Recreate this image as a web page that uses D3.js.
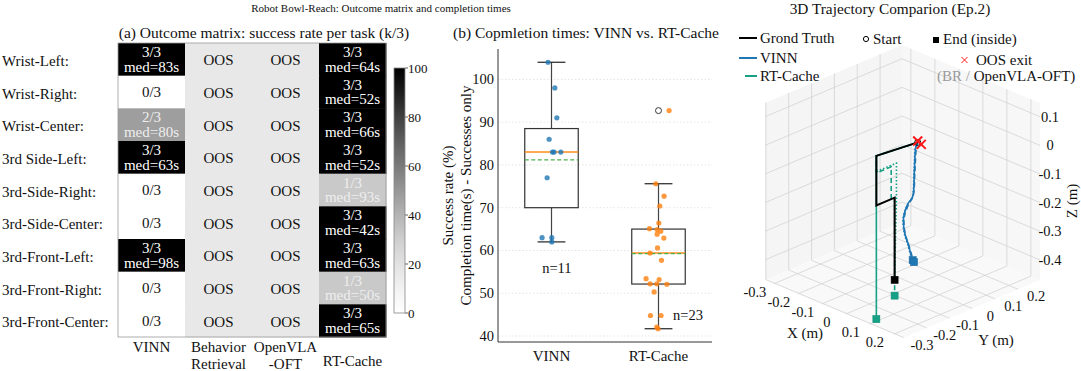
<!DOCTYPE html>
<html><head><meta charset="utf-8">
<script src="https://cdn.jsdelivr.net/npm/d3@7"></script>
<style>
body{margin:0;background:#fff}
svg{display:block}
text{font-family:"Liberation Serif","Times New Roman",serif;fill:#111}
</style>
</head><body>
<svg id="c" width="1081" height="371"></svg>
<script>
// ---------------- DATA ----------------
const tasks = ["Wrist-Left:","Wrist-Right:","Wrist-Center:","3rd Side-Left:","3rd-Side-Right:","3rd-Side-Center:","3rd-Front-Left:","3rd-Front-Right:","3rd-Front-Center:"];
const methods = ["VINN","Behavior|Retrieval","OpenVLA|-OFT","RT-Cache"];
const vinnSuccess = [3,0,2,3,0,0,3,0,0];
const vinnMedian  = [83,null,80,63,null,null,98,null,null];
const rtSuccess   = [3,3,3,3,1,3,3,1,3];
const rtMedian    = [64,52,66,52,93,42,63,50,65];
const colorbarTicks = [0,20,40,60,80,100];

const boxGroups = ["VINN","RT-Cache"];
const vinnTimes  = [104,98,91,86,83,83,83,77,63,63,62];
const vinnJitter = [-0.032,0.031,0.05,-0.022,0.009,0.024,0.087,-0.041,-0.088,0.003,0.003];
const rtTimes  = [75.6,72.7,70.4,66.4,65.1,64.9,64.5,63.8,62.9,60.6,59.4,57.7,53.4,53.2,52.2,52.2,52.1,50.3,44.8,44.8,42.1,41.7,92.7];
const rtJitter = [-0.025,0.052,0.012,0.003,-0.084,-0.013,0.021,-0.013,0.05,-0.009,-0.079,0.028,-0.116,0.006,-0.079,-0.016,0.078,-0.041,-0.075,0.024,-0.016,-0.004,0.099];
const boxYTicks = [40,50,60,70,80,90,100];

const xTicks3 = [-0.3,-0.2,-0.1,0,0.1,0.2];
const yTicks3 = [-0.3,-0.2,-0.1,0,0.1,0.2];
const zTicks3 = [-0.4,-0.3,-0.2,-0.1,0,0.1];
const groundTruth = [[0.01,0,0.03],[-0.01,-0.16,0.03],[-0.01,-0.16,-0.143],[-0.01,-0.08,-0.143],[-0.01,-0.08,-0.43]];
const rtTrial1 = [[0.01,0,0.03],[-0.01,-0.16,0.03],[-0.01,-0.16,-0.143],[-0.01,-0.16,-0.54]];
const rtTrial2 = [[0.01,0,0.03],[-0.01,-0.16,0.03],[-0.01,-0.16,-0.03],[-0.01,-0.095,-0.03],[-0.01,-0.095,-0.142],[-0.01,-0.08,-0.143],[-0.01,-0.08,-0.485]];
const rtTrial3 = [[0.01,0,0.03],[-0.01,-0.16,0.03],[-0.01,-0.16,-0.025],[-0.01,-0.072,-0.025],[-0.01,-0.072,-0.143],[-0.01,-0.08,-0.43]];
const vinnTrial1 = [[0.010,0.000,0.030],[0.006,-0.004,0.014],[0.003,-0.007,-0.067],[-0.0005,-0.011,-0.160],[-0.010,-0.021,-0.183],[-0.018,-0.029,-0.218],[-0.020,-0.031,-0.242],[-0.017,-0.028,-0.288],[-0.010,-0.021,-0.323],[-0.005,-0.015,-0.358],[-0.0005,-0.011,-0.381]];
const vinnTrial2 = [[0.010,0.000,0.030],[0.007,-0.003,0.010],[0.004,-0.006,-0.070],[0.000,-0.010,-0.158],[-0.009,-0.020,-0.186],[-0.017,-0.028,-0.222],[-0.019,-0.030,-0.246],[-0.016,-0.027,-0.292],[-0.009,-0.020,-0.327],[-0.003,-0.013,-0.362],[0.002,-0.008,-0.388]];
const vinnTrial3 = [[0.010,0.000,0.030],[0.005,-0.005,0.012],[0.002,-0.008,-0.066],[-0.002,-0.012,-0.162],[-0.011,-0.022,-0.186],[-0.019,-0.030,-0.220],[-0.021,-0.032,-0.246],[-0.018,-0.029,-0.290],[-0.011,-0.022,-0.326],[-0.006,-0.016,-0.360],[-0.001,-0.011,-0.384]];
const oosExits = [[0.01,0,0.035],[0.02,0.005,0.025]];

// ---------------- SETUP ----------------
const svg = d3.select("#c");
const FS = 15;

svg.append("text").attr("x",381).attr("y",12).attr("text-anchor","middle")
  .style("font-size","11px").text("Robot Bowl-Reach: Outcome matrix and completion times");

// ---------------- (a) HEATMAP ----------------
const hx = d3.scaleBand().domain(d3.range(4)).range([118,386]);
const hy = d3.scaleBand().domain(d3.range(9)).range([43,337]);
const cellColor = d3.scaleLinear().domain([0,33.3,66.7,100]).range(["#ffffff","#c9c9c9","#9e9e9e","#000000"]);
const oosColor = "#e8e8e8";
const ga = svg.append("g");
ga.append("text").attr("x",264).attr("y",38).attr("text-anchor","middle").style("font-size","15.5px")
  .text("(a) Outcome matrix: success rate per task (k/3)");

const cells = [];
tasks.forEach((t,i)=>{
  cells.push({c:0,r:i,succ:vinnSuccess[i],med:vinnMedian[i]});
  cells.push({c:1,r:i,oos:true});
  cells.push({c:2,r:i,oos:true});
  cells.push({c:3,r:i,succ:rtSuccess[i],med:rtMedian[i]});
});
ga.selectAll("rect.cell").data(cells).join("rect").attr("class","cell")
  .attr("x",d=>hx(d.c)).attr("y",d=>hy(d.r)).attr("width",hx.bandwidth()+0.5).attr("height",hy.bandwidth()+0.5)
  .attr("fill",d=>d.oos?oosColor:cellColor(d.succ/3*100));
ga.append("rect").attr("x",118).attr("y",43).attr("width",268).attr("height",294)
  .attr("fill","none").attr("stroke","#999").attr("stroke-width",0.8);
cells.forEach(d=>{
  const cx = hx(d.c)+hx.bandwidth()/2, cy = hy(d.r)+hy.bandwidth()/2;
  if(d.oos){
    ga.append("text").attr("x",cx).attr("y",cy+6).attr("text-anchor","middle").style("font-size",FS+"px").text("OOS");
  } else if(d.succ===0){
    ga.append("text").attr("x",cx).attr("y",cy+5).attr("text-anchor","middle").style("font-size",FS+"px").text(`${d.succ}/3`);
  } else {
    const col = d.succ===3?"#ffffff":"#eeeeee";
    ga.append("text").attr("x",cx).attr("y",cy-2.5).attr("text-anchor","middle").style("font-size",FS+"px").style("fill",col).text(`${d.succ}/3`);
    ga.append("text").attr("x",cx).attr("y",cy+12.3).attr("text-anchor","middle").style("font-size",FS+"px").style("fill",col).text(`med=${d.med}s`);
  }
});
tasks.forEach((t,i)=>{
  ga.append("text").attr("x",2).attr("y",hy(i)+hy.bandwidth()/2+6.5).style("font-size",FS+"px").text(t);
});
methods.forEach((m,i)=>{
  const parts = m.split("|");
  const cx = hx(i)+hx.bandwidth()/2;
  if(parts.length===1){
    const yy = m==="RT-Cache"?365.5:352;
    ga.append("text").attr("x",cx).attr("y",yy).attr("text-anchor","middle").style("font-size",FS+"px").text(m);
  } else {
    parts.forEach((p,k)=>ga.append("text").attr("x",cx).attr("y",352+k*17).attr("text-anchor","middle").style("font-size",FS+"px").text(p));
  }
});
// colorbar
const cbY = d3.scaleLinear().domain([0,100]).range([313,68]);
const defs = svg.append("defs");
const grad = defs.append("linearGradient").attr("id","cbg").attr("x1",0).attr("y1",1).attr("x2",0).attr("y2",0);
d3.range(0,1.001,0.1).forEach(t=>grad.append("stop").attr("offset",t).attr("stop-color",d3.interpolateGreys(t)));
ga.append("rect").attr("x",394).attr("y",cbY(100)).attr("width",11).attr("height",cbY(0)-cbY(100))
  .attr("fill","url(#cbg)").attr("stroke","#888").attr("stroke-width",0.8);
colorbarTicks.forEach(v=>{
  ga.append("line").attr("x1",405).attr("x2",408).attr("y1",cbY(v)).attr("y2",cbY(v)).attr("stroke","#666");
  ga.append("text").attr("x",408).attr("y",cbY(v)+4.5).style("font-size","13px").text(v);
});

// ---------------- (b) BOXPLOT ----------------
const bx = d3.scaleLinear().domain([0.5,2.5]).range([498,712]);
const by = d3.scaleLinear().domain([38.6,107.1]).range([342,49]);
const gb = svg.append("g");
gb.append("text").attr("x",586).attr("y",38).attr("text-anchor","middle").style("font-size","15.5px")
  .text("(b) Copmletion times: VINN vs. RT-Cache");
boxYTicks.forEach(v=>{
  gb.append("line").attr("x1",498).attr("x2",712).attr("y1",by(v)).attr("y2",by(v))
    .attr("stroke","#ddd").attr("stroke-width",0.8).attr("stroke-dasharray","1.5,2");
  gb.append("text").attr("x",494).attr("y",by(v)+5).attr("text-anchor","end").style("font-size","14.5px").text(v);
});
gb.append("line").attr("x1",498).attr("x2",498).attr("y1",49).attr("y2",342).attr("stroke","#333").attr("stroke-width",1);
gb.append("line").attr("x1",498).attr("x2",712).attr("y1",342).attr("y2",342).attr("stroke","#333").attr("stroke-width",1);
boxGroups.forEach((g,i)=>gb.append("text").attr("x",bx(i+1)).attr("y",361).attr("text-anchor","middle").style("font-size",FS+"px").text(g));
const yl = gb.append("text").attr("transform",`translate(0,${(49+342)/2}) rotate(-90)`).attr("text-anchor","middle").style("font-size",FS+"px");
yl.append("tspan").attr("x",0).attr("y",453).text("Success rate (%)");
yl.append("tspan").attr("x",0).attr("y",471).text("Completion time(s) - Successes only");

function stats(arr){
  const s = arr.slice().sort(d3.ascending);
  const q1=d3.quantile(s,0.25), q3=d3.quantile(s,0.75), med=d3.quantile(s,0.5), iqr=q3-q1;
  const lo = d3.min(s.filter(v=>v>=q1-1.5*iqr)), hi = d3.max(s.filter(v=>v<=q3+1.5*iqr));
  return {q1,q3,med,lo,hi,mean:d3.mean(s),out:s.filter(v=>v<lo||v>hi)};
}
const groupsData = [{vals:vinnTimes,jit:vinnJitter,col:"#1f77b4"},{vals:rtTimes,jit:rtJitter,col:"#ff7f0e"}];
groupsData.forEach((G,i)=>{
  const st = stats(G.vals), p=i+1, hw=0.25, cw=0.13;
  gb.append("line").attr("x1",bx(p)).attr("x2",bx(p)).attr("y1",by(st.q3)).attr("y2",by(st.hi)).attr("stroke","#444").attr("stroke-width",1.2);
  gb.append("line").attr("x1",bx(p)).attr("x2",bx(p)).attr("y1",by(st.q1)).attr("y2",by(st.lo)).attr("stroke","#444").attr("stroke-width",1.2);
  [st.hi,st.lo].forEach(v=>gb.append("line").attr("x1",bx(p-cw)).attr("x2",bx(p+cw)).attr("y1",by(v)).attr("y2",by(v)).attr("stroke","#222").attr("stroke-width",1.2));
  gb.append("rect").attr("x",bx(p-hw)).attr("y",by(st.q3)).attr("width",bx(p+hw)-bx(p-hw)).attr("height",by(st.q1)-by(st.q3))
    .attr("fill","none").attr("stroke","#333").attr("stroke-width",1.2);
  gb.append("line").attr("x1",bx(p-hw)).attr("x2",bx(p+hw)).attr("y1",by(st.med)).attr("y2",by(st.med)).attr("stroke","#ff8c1a").attr("stroke-width",1.5);
  gb.append("line").attr("x1",bx(p-hw)).attr("x2",bx(p+hw)).attr("y1",by(st.mean)).attr("y2",by(st.mean)).attr("stroke","#4caf50").attr("stroke-width",1.3).attr("stroke-dasharray","4,2.5");
  st.out.forEach(v=>gb.append("circle").attr("cx",bx(p)).attr("cy",by(v)).attr("r",3).attr("fill","none").attr("stroke","#222").attr("stroke-width",0.9));
  G.vals.forEach((v,k)=>gb.append("circle").attr("cx",bx(p+G.jit[k])).attr("cy",by(v)).attr("r",2.6).attr("fill",G.col).attr("fill-opacity",0.8));
  gb.append("text").attr("x",bx(p+(i===0?0.05:0.276))).attr("y",by(i===0?55.8:44.9)+5).attr("text-anchor","middle").style("font-size","14.5px").text(`n=${G.vals.length}`);
});

// ---------------- (c) 3D TRAJECTORY ----------------
const g3 = svg.append("g");
const xN = d3.scaleLinear().domain([-0.337,0.238]).range([0,1]);
const yN = d3.scaleLinear().domain([-0.304,0.296]).range([0,1]);
const zN = d3.scaleLinear().domain([-0.47,0.148]).range([0,1]);
const O=[765,280], EX=[138,58], EY=[137,-58], EZ=[0,-177];
function proj(p){const a=xN(p[0]),b=yN(p[1]),c=zN(p[2]);return [O[0]+a*EX[0]+b*EY[0]+c*EZ[0],O[1]+a*EX[1]+b*EY[1]+c*EZ[1]];}
const X0=xN.domain()[0],X1=xN.domain()[1],Y0=yN.domain()[0],Y1=yN.domain()[1],Z0=zN.domain()[0],Z1=zN.domain()[1];
const poly = pts=>pts.map(p=>proj(p).join(",")).join(" ");
// panes
g3.append("polygon").attr("points",poly([[X0,Y0,Z0],[X1,Y0,Z0],[X1,Y1,Z0],[X0,Y1,Z0]])).attr("fill","#f9f9f9");
g3.append("polygon").attr("points",poly([[X0,Y0,Z0],[X0,Y1,Z0],[X0,Y1,Z1],[X0,Y0,Z1]])).attr("fill","#f5f5f5");
g3.append("polygon").attr("points",poly([[X0,Y1,Z0],[X1,Y1,Z0],[X1,Y1,Z1],[X0,Y1,Z1]])).attr("fill","#f7f7f7");
const gl = (a,b)=>{const p=proj(a),q=proj(b);g3.append("line").attr("x1",p[0]).attr("y1",p[1]).attr("x2",q[0]).attr("y2",q[1]).attr("stroke","#d3d3d3").attr("stroke-width",0.8);};
xTicks3.forEach(x=>{gl([x,Y0,Z0],[x,Y1,Z0]);gl([x,Y1,Z0],[x,Y1,Z1]);});
yTicks3.forEach(y=>{gl([X0,y,Z0],[X1,y,Z0]);gl([X0,y,Z0],[X0,y,Z1]);});
zTicks3.forEach(z=>{gl([X0,Y0,z],[X0,Y1,z]);gl([X0,Y1,z],[X1,Y1,z]);});
// tick labels
xTicks3.forEach(x=>{const p=proj([x,Y0,Z0]);g3.append("text").attr("x",p[0]-19).attr("y",p[1]+13).attr("text-anchor","middle").style("font-size","14.5px").text(x);});
yTicks3.forEach(y=>{const p=proj([X1,y,Z0]);g3.append("text").attr("x",p[0]+18).attr("y",p[1]+12).attr("text-anchor","middle").style("font-size","14.5px").text(y);});
zTicks3.forEach(z=>{const p=proj([X1,Y1,z]);g3.append("text").attr("x",p[0]+10).attr("y",p[1]+5).attr("text-anchor","middle").style("font-size","14.5px").text(z);});
g3.append("text").attr("x",805).attr("y",338).attr("text-anchor","middle").style("font-size",FS+"px").text("X (m)");
g3.append("text").attr("x",996).attr("y",345).attr("text-anchor","middle").style("font-size",FS+"px").text("Y (m)");
g3.append("text").attr("transform","translate(1077,201) rotate(-90)").attr("text-anchor","middle").style("font-size",FS+"px").text("Z (m)");
// trajectories
const line3 = d3.line().x(d=>proj(d)[0]).y(d=>proj(d)[1]);
const curve3 = d3.line().x(d=>proj(d)[0]).y(d=>proj(d)[1]).curve(d3.curveCatmullRom);
const teal="#16a085", blue="#1f77b4";
g3.append("path").attr("d",line3(rtTrial1)).attr("fill","none").attr("stroke",teal).attr("stroke-width",1.6);
g3.append("path").attr("d",line3(rtTrial2)).attr("fill","none").attr("stroke",teal).attr("stroke-width",1.6).attr("stroke-dasharray","5,3");
g3.append("path").attr("d",line3(rtTrial3)).attr("fill","none").attr("stroke",teal).attr("stroke-width",1.6).attr("stroke-dasharray","1.5,2");
g3.append("path").attr("d",curve3(vinnTrial1)).attr("fill","none").attr("stroke",blue).attr("stroke-width",1.6);
g3.append("path").attr("d",curve3(vinnTrial2)).attr("fill","none").attr("stroke",blue).attr("stroke-width",1.6).attr("stroke-dasharray","5,3");
g3.append("path").attr("d",curve3(vinnTrial3)).attr("fill","none").attr("stroke",blue).attr("stroke-width",1.4).attr("stroke-dasharray","1.5,2");
g3.append("path").attr("d",line3(groundTruth)).attr("fill","none").attr("stroke","#000").attr("stroke-width",2);
const sq=(p,c)=>{const q=proj(p);g3.append("rect").attr("x",q[0]-3.5).attr("y",q[1]-3.5).attr("width",7).attr("height",7).attr("fill",c).attr("stroke",d3.color(c).darker(0.3)).attr("stroke-width",0.6);};
[rtTrial1,rtTrial2].forEach(t=>sq(t[t.length-1],teal));
[vinnTrial1,vinnTrial2].forEach(t=>sq(t[t.length-1],blue));
sq(groundTruth[groundTruth.length-1],"#000");
const st0 = proj(groundTruth[0]);
g3.append("circle").attr("cx",st0[0]).attr("cy",st0[1]).attr("r",3).attr("fill","none").attr("stroke","#000");
const xMark=(p,s,w)=>{g3.append("path").attr("d",`M${p[0]-s},${p[1]-s}L${p[0]+s},${p[1]+s}M${p[0]-s},${p[1]+s}L${p[0]+s},${p[1]-s}`).attr("stroke","#ff1a1a").attr("stroke-width",w);};
oosExits.forEach(p=>xMark(proj(p),4.5,2));
// title + legend
g3.append("text").attr("x",890).attr("y",14).attr("text-anchor","middle").style("font-size","15.3px").text("3D Trajectory Comparion (Ep.2)");
[["Grond Truth","#000",38,739],["VINN",blue,58,739],["RT-Cache",teal,76,745]].forEach(([t,c,y,x0])=>{
  g3.append("line").attr("x1",x0).attr("x2",757).attr("y1",y).attr("y2",y).attr("stroke",c).attr("stroke-width",2);
  g3.append("text").attr("x",760).attr("y",y+5).style("font-size",FS+"px").text(t);
});
g3.append("circle").attr("cx",866).attr("cy",39).attr("r",2.6).attr("fill","none").attr("stroke","#000");
g3.append("text").attr("x",873).attr("y",44).style("font-size",FS+"px").text("Start");
g3.append("rect").attr("x",933).attr("y",37).attr("width",6).attr("height",6).attr("fill","#000");
g3.append("text").attr("x",943).attr("y",44).style("font-size",FS+"px").text("End (inside)");
xMark([964.5,60],3,1);
g3.append("text").attr("x",976).attr("y",65).style("font-size",FS+"px").text("OOS exit");
const tt = g3.append("text").attr("x",937).attr("y",81).style("font-size",FS+"px");
tt.append("tspan").style("fill","#9a9a9a").text("(BR / ");
tt.append("tspan").text("OpenVLA-OFT)");
</script>
</body></html>
